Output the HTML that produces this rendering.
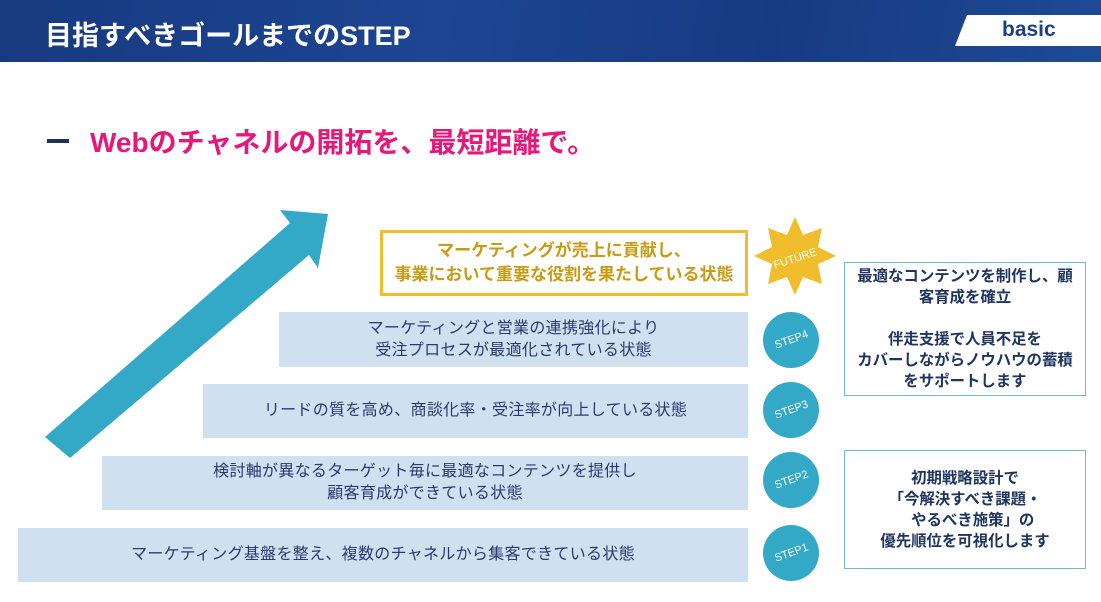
<!DOCTYPE html>
<html><head><meta charset="utf-8"><style>
body{margin:0;width:1101px;height:602px;overflow:hidden;background:#fff;font-family:"Liberation Sans","Noto Sans CJK JP",sans-serif;position:relative}
.hdr{position:absolute;left:0;top:0;width:1101px;height:62px;background:linear-gradient(100deg,#173a80 0%,#1d4592 40%,#173b82 70%,#1e4a95 100%)}
.t{position:absolute;left:45px;top:14px;color:#fff;font-size:27px;font-weight:bold}
.basic{position:absolute;left:955px;top:15px;width:146px;height:31px;background:#fff;clip-path:polygon(12px 0,100% 0,100% 100%,0 100%)}
.basic span{position:absolute;left:47px;top:3px;font-size:21px;font-weight:bold;color:#1d3f8a}
.sub{position:absolute;left:90px;top:121px;font-size:28px;font-weight:bold;color:#e6197a}
.dash{position:absolute;left:47px;top:139px;width:22px;height:4px;background:#1f2f5a}
.bar{position:absolute;background:#cfe0f1;color:#2b3a6b;font-size:16px;letter-spacing:0.3px;display:flex;align-items:center;justify-content:center;text-align:center;line-height:22px}
.fut{position:absolute;left:380px;top:230px;width:362px;height:60px;border:3px solid #f0bd2c;color:#c99a14;font-weight:bold;font-size:17px;display:flex;align-items:center;justify-content:center;text-align:center;line-height:24px}
.c{position:absolute;width:56px;height:56px;border-radius:50%;background:#34a9c7;color:#fff;font-size:11px;display:flex;align-items:center;justify-content:center}
.c span{transform:rotate(-20deg)}
.box{position:absolute;border:1.5px solid #6fb9d2;color:#1f3560;font-weight:bold;font-size:15.4px;text-align:center;line-height:21px;display:flex;align-items:center;justify-content:center}
</style></head><body>
<div class="hdr"></div>
<div class="t">目指すべきゴールまでのSTEP</div>
<div class="basic"><span>basic</span></div>
<div class="dash"></div>
<div class="sub">Webのチャネルの開拓を、最短距離で。</div>
<svg style="position:absolute;left:0;top:0" width="1101" height="602">
<polygon points="45,437 70,458 309,255 318,268 328,214 280,210 290,223" fill="#34a9c7"/>
<polygon points="795,217 803,235 822,228 818,247 836,256 818,264 822,284 803,277 795,295 787,277 768,284 772,264 754,256 772,247 768,228 787,235" fill="#f0bd2c"/>
<text x="795" y="262" fill="#fff" font-size="11" text-anchor="middle" transform="rotate(-18 795 258)" font-family="Liberation Sans">FUTURE</text>
</svg>
<div class="fut">マーケティングが売上に貢献し、<br>事業において重要な役割を果たしている状態</div>
<div class="bar" style="left:279px;top:312px;width:469px;height:55px">マーケティングと営業の連携強化により<br>受注プロセスが最適化されている状態</div>
<div class="bar" style="left:203px;top:384px;width:545px;height:54px">リードの質を高め、商談化率・受注率が向上している状態</div>
<div class="bar" style="left:102px;top:456px;width:646px;height:54px">検討軸が異なるターゲット毎に最適なコンテンツを提供し<br>顧客育成ができている状態</div>
<div class="bar" style="left:18px;top:528px;width:730px;height:54px">マーケティング基盤を整え、複数のチャネルから集客できている状態</div>
<div class="c" style="left:763px;top:312px"><span>STEP4</span></div>
<div class="c" style="left:763px;top:382px"><span>STEP3</span></div>
<div class="c" style="left:763px;top:452px"><span>STEP2</span></div>
<div class="c" style="left:763px;top:525px"><span>STEP1</span></div>
<div class="box" style="left:844px;top:262px;width:240px;height:132px">最適なコンテンツを制作し、顧<br>客育成を確立<br><br>伴走支援で人員不足を<br>カバーしながらノウハウの蓄積<br>をサポートします</div>
<div class="box" style="left:844px;top:450px;width:240px;height:117px">初期戦略設計で<br>「今解決すべき課題・<br>　やるべき施策」の<br>優先順位を可視化します</div>
</body></html>
